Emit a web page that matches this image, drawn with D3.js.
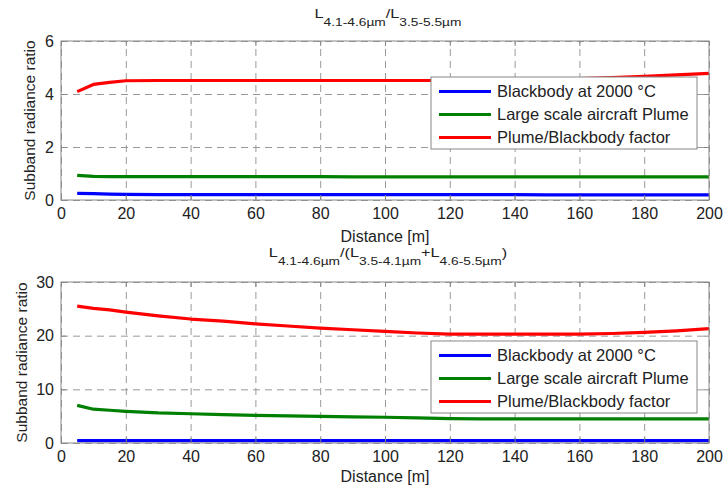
<!DOCTYPE html>
<html>
<head>
<meta charset="utf-8">
<script src="https://cdn.jsdelivr.net/npm/d3@7/dist/d3.min.js"></script>
<style>
  body { margin: 0; background: #fff; }
  svg { font-family: "Liberation Sans", Arial, Helvetica, sans-serif; }
</style>
</head>
<body>
<svg id="chart" width="724" height="492"></svg>
<script>
// distances along the x axis [m]
const distance = [5, 10, 15, 20, 30, 40, 50, 60, 70, 80, 90, 100, 110, 120, 130, 140, 150, 160, 170, 180, 190, 200];

// panel 1 : L4.1-4.6 / L3.5-5.5
const blackbody1 = [0.25, 0.24, 0.22, 0.21, 0.2, 0.2, 0.2, 0.2, 0.2, 0.2, 0.2, 0.2, 0.2, 0.2, 0.2, 0.2, 0.19, 0.19, 0.19, 0.19, 0.19, 0.19];
const plume1 = [0.93, 0.89, 0.88, 0.88, 0.88, 0.88, 0.88, 0.88, 0.88, 0.88, 0.87, 0.87, 0.87, 0.87, 0.87, 0.87, 0.87, 0.87, 0.87, 0.87, 0.87, 0.87];
const factor1 = [4.09, 4.36, 4.44, 4.5, 4.51, 4.51, 4.51, 4.51, 4.51, 4.51, 4.51, 4.51, 4.51, 4.51, 4.51, 4.52, 4.54, 4.58, 4.62, 4.67, 4.72, 4.78];

// panel 2 : L4.1-4.6 / (L3.5-4.1 + L4.6-5.5)
const blackbody2 = [0.45, 0.45, 0.45, 0.45, 0.45, 0.45, 0.45, 0.45, 0.45, 0.45, 0.45, 0.45, 0.45, 0.45, 0.45, 0.45, 0.45, 0.45, 0.45, 0.45, 0.45, 0.45];
const plume2 = [7.0, 6.3, 6.1, 5.9, 5.6, 5.45, 5.3, 5.15, 5.05, 4.95, 4.85, 4.8, 4.7, 4.55, 4.5, 4.5, 4.5, 4.5, 4.5, 4.5, 4.5, 4.5];
const factor2 = [25.5, 25.1, 24.8, 24.4, 23.7, 23.1, 22.7, 22.2, 21.8, 21.4, 21.1, 20.8, 20.5, 20.3, 20.3, 20.3, 20.3, 20.3, 20.4, 20.6, 20.9, 21.3];

const xTicks = [0, 20, 40, 60, 80, 100, 120, 140, 160, 180, 200];
const yTicks1 = [0, 2, 4, 6];
const yTicks2 = [0, 10, 20, 30];
const seriesNames = ['Blackbody at 2000 °C', 'Large scale aircraft Plume', 'Plume/Blackbody factor'];
const seriesColors = ['#0000ff', '#008000', '#ff0000'];

const svg = d3.select('#chart');

let panel = (settings) => {
    const innerwidth = settings.right - settings.left;
    const innerheight = settings.bottom - settings.top;
    const series = [settings.blackbody, settings.plume, settings.factor];

    const xScale = d3.scaleLinear().domain([0, 200]).range([0, innerwidth]);
    const yScale = d3.scaleLinear().domain([0, settings.yMax]).range([innerheight, 0]);

    const canvas = svg.append('g')
        .attr('transform', `translate(${settings.left},${settings.top})`);

    // dashed grid
    canvas.append('g')
        .attr('transform', `translate(0,${innerheight})`)
        .call(d3.axisBottom(xScale).tickValues(xTicks).tickSize(-innerheight).tickFormat(''))
        .call(g => g.select('.domain').remove());
    canvas.append('g')
        .call(d3.axisLeft(yScale).tickValues(settings.yTicks).tickSize(-innerwidth).tickFormat(''))
        .call(g => g.select('.domain').remove());
    canvas.selectAll('.tick line')
        .attr('stroke', '#999')
        .attr('stroke-dasharray', '7,5');

    // data lines
    const line = d3.line()
        .x((d, i) => xScale(distance[i]))
        .y(d => yScale(d));
    canvas.selectAll('.dataLine')
        .data(series)
        .enter()
        .append('path')
        .attr('class', 'dataLine')
        .attr('fill', 'none')
        .attr('stroke', (d, i) => seriesColors[i])
        .attr('stroke-width', 3.2)
        .attr('stroke-linejoin', 'round')
        .attr('d', line);

    // box with inward ticks
    canvas.append('rect')
        .attr('width', innerwidth)
        .attr('height', innerheight)
        .attr('fill', 'none')
        .attr('stroke', '#888');

    const fmt = d3.format('d');
    const xAxisGroup = canvas.append('g')
        .attr('transform', `translate(0,${innerheight})`)
        .call(d3.axisBottom(xScale).tickValues(xTicks).tickFormat(fmt).tickSizeInner(-5).tickSizeOuter(0).tickPadding(8));
    canvas.append('g')
        .call(d3.axisTop(xScale).tickValues(xTicks).tickSizeInner(-5).tickSizeOuter(0).tickFormat(''));
    const yAxisGroup = canvas.append('g')
        .call(d3.axisLeft(yScale).tickValues(settings.yTicks).tickFormat(fmt).tickSizeInner(-5).tickSizeOuter(0).tickPadding(7));
    canvas.append('g')
        .attr('transform', `translate(${innerwidth},0)`)
        .call(d3.axisRight(yScale).tickValues(settings.yTicks).tickSizeInner(-5).tickSizeOuter(0).tickFormat(''));

    [xAxisGroup, yAxisGroup].forEach(g => {
        g.selectAll('text').attr('font-size', '16px').attr('fill', '#222');
        g.attr('font-family', null);
    });
    canvas.selectAll('.domain').attr('stroke', 'none');
    canvas.selectAll('.tick line').filter(function () { return !this.getAttribute('stroke-dasharray'); })
        .attr('stroke', '#888');

    // axis labels
    canvas.append('text')
        .attr('x', innerwidth / 2)
        .attr('y', innerheight + settings.xLabelOffset)
        .attr('text-anchor', 'middle')
        .attr('font-size', '16px')
        .attr('fill', '#222')
        .text('Distance [m]');
    canvas.append('text')
        .attr('transform', `translate(${settings.yLabelX - settings.left},${innerheight / 2}) rotate(-90)`)
        .attr('text-anchor', 'middle')
        .attr('font-size', '15.5px')
        .attr('fill', '#222')
        .text('Subband radiance ratio');

    // title with subscripts (the source figure is a little stretched sideways)
    const title = canvas.append('text')
        .attr('transform', `translate(${innerwidth / 2 + 3},${settings.titleY - settings.top}) scale(1.25,1)`)
        .attr('text-anchor', 'middle')
        .attr('font-size', '13px')
        .attr('fill', '#222');
    settings.title.forEach(part => {
        title.append('tspan')
            .attr('font-size', part.sub ? '11px' : '13px')
            .attr('dy', part.sub ? 8 : (part.back ? -8 : 0))
            .text(part.text);
    });

    // legend
    const legend = canvas.append('g')
        .attr('transform', `translate(${innerwidth - 12 - 266},${settings.legendTop})`);
    legend.append('rect')
        .attr('width', 266)
        .attr('height', 72)
        .attr('fill', '#fff')
        .attr('stroke', '#888');
    const rows = legend.selectAll('.row')
        .data(seriesNames)
        .enter()
        .append('g')
        .attr('class', 'row')
        .attr('transform', (d, i) => `translate(0,${14.5 + i * 23})`);
    rows.append('line')
        .attr('x1', 8).attr('x2', 60)
        .attr('stroke', (d, i) => seriesColors[i])
        .attr('stroke-width', 3);
    rows.append('text')
        .attr('x', 66)
        .attr('dy', '0.36em')
        .attr('font-size', '16.5px')
        .attr('fill', '#222')
        .text(d => d);
};

panel({
    top: 41, bottom: 200, left: 61, right: 709, yMax: 6, yTicks: yTicks1,
    blackbody: blackbody1, plume: plume1, factor: factor1,
    xLabelOffset: 42, yLabelX: 35, titleY: 18, legendTop: 36,
    title: [
        { text: 'L' }, { text: '4.1-4.6µm', sub: true }, { text: '/', back: true },
        { text: 'L' }, { text: '3.5-5.5µm', sub: true }
    ]
});

panel({
    top: 282, bottom: 443, left: 61, right: 709, yMax: 30, yTicks: yTicks2,
    blackbody: blackbody2, plume: plume2, factor: factor2,
    xLabelOffset: 39, yLabelX: 27, titleY: 257, legendTop: 59,
    title: [
        { text: 'L' }, { text: '4.1-4.6µm', sub: true }, { text: '/(', back: true },
        { text: 'L' }, { text: '3.5-4.1µm', sub: true }, { text: '+', back: true },
        { text: 'L' }, { text: '4.6-5.5µm', sub: true }, { text: ')', back: true }
    ]
});
</script>
</body>
</html>
